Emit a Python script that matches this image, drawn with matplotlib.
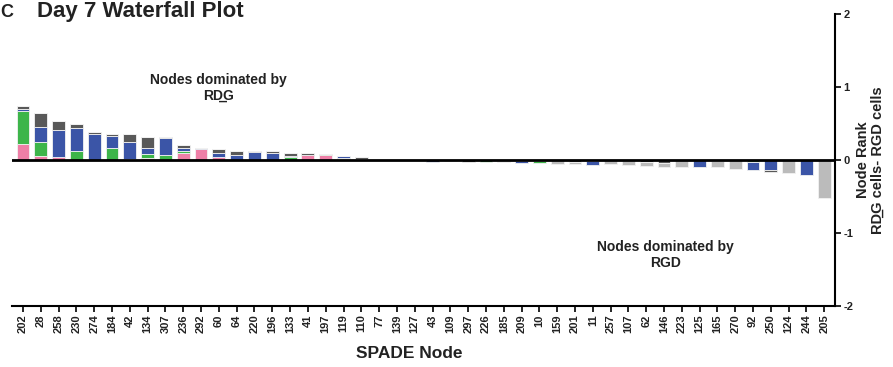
import matplotlib
matplotlib.use("Agg")
import matplotlib.pyplot as plt
import numpy as np

plt.rcParams['font.family'] = ['Liberation Sans', 'DejaVu Sans']
plt.rcParams['font.weight'] = 'bold'

nodes = ["202", "28", "258", "230", "274", "184", "42", "134", "307", "236",
         "292", "60", "64", "220", "196", "133", "41", "197", "119", "110",
         "77", "139", "127", "43", "109", "297", "226", "185", "209", "10",
         "159", "201", "11", "257", "107", "62", "146", "223", "125", "165",
         "270", "92", "250", "124", "244", "205"]

pink = [0.22, 0.06, 0.04, 0.0, 0.0, 0.0, 0.02, 0.03, 0.0, 0.10,
        0.15, 0.04, 0.0, 0.0, 0.0, 0.0, 0.07, 0.07, 0.02, 0.0,
        0.0, 0.0, 0.0, 0.0, 0.0, 0.0, 0.0, 0.0, -0.015, -0.015,
        0.0, 0.0, -0.02, 0.0, 0.0, 0.0, 0.0, 0.0, 0.0, 0.0,
        0.0, 0.0, 0.0, 0.0, 0.0, 0.0]
green = [0.45, 0.19, 0.0, 0.12, 0.0, 0.17, 0.0, 0.05, 0.07, 0.02,
         0.0, 0.0, 0.0, 0.0, 0.0, 0.04, 0.0, 0.01, 0.01, 0.0,
         0.0, 0.0, 0.0, 0.0, 0.0, 0.0, -0.03, 0.0, 0.0, -0.025,
         0.0, 0.0, 0.0, 0.0, 0.0, 0.0, 0.0, 0.0, 0.0, 0.0,
         0.0, -0.03, 0.0, 0.0, 0.0, 0.0]
blue = [0.03, 0.20, 0.37, 0.32, 0.35, 0.16, 0.22, 0.09, 0.23, 0.05,
        0.02, 0.06, 0.07, 0.11, 0.10, 0.02, 0.0, 0.0, 0.02, 0.01,
        0.0, 0.0, 0.0, -0.03, 0.0, 0.0, 0.0, 0.0, -0.025, 0.0,
        0.0, 0.0, -0.05, 0.0, 0.0, 0.0, 0.0, 0.0, -0.10, 0.0,
        0.0, -0.10, -0.13, 0.0, -0.21, 0.0]
dark = [0.04, 0.20, 0.12, 0.05, 0.03, 0.03, 0.12, 0.15, 0.02, 0.03,
        0.0, 0.05, 0.06, 0.02, 0.02, 0.04, 0.02, 0.0, 0.0, 0.03,
        0.0, 0.0, 0.0, 0.0, 0.0, -0.03, 0.0, -0.01, 0.0, 0.0,
        0.0, -0.03, 0.0, 0.0, 0.0, -0.03, -0.04, 0.0, 0.0, -0.02,
        0.0, 0.0, -0.03, 0.0, 0.0, 0.0]
light = [0.0] * 24 + [-0.02, 0.0, 0.0, -0.02, 0.0, 0.0,
                      -0.05, -0.03, 0.0, -0.06, -0.07, -0.05, -0.05, -0.10, 0.0, -0.08,
                      -0.12, 0.0, 0.0, -0.18, 0.0, -0.52]

series = [pink, green, blue, dark, light]
colors = ["#EE7FA7", "#3DB54A", "#3B55A7", "#595959", "#BBBBBB"]

fig = plt.figure(figsize=(8.93, 3.67), dpi=100)
ax = fig.add_axes([0.0134, 0.166, 0.9216, 0.796])

x = np.arange(len(nodes))
pos_base = np.zeros(len(nodes))
neg_base = np.zeros(len(nodes))
for vals, c in zip(series, colors):
    v = np.array(vals)
    bottom = np.where(v >= 0, pos_base, neg_base)
    ax.bar(x, v, bottom=bottom, width=0.72, color=c, edgecolor="#f2f2f2",
           linewidth=0.6, zorder=2)
    pos_base = pos_base + np.where(v > 0, v, 0)
    neg_base = neg_base + np.where(v < 0, v, 0)

ax.axhline(0, color="black", lw=2, zorder=3)
ax.set_xlim(-0.62, 45.6)
ax.set_ylim(-2, 2)

ax.spines['left'].set_visible(False)
ax.spines['top'].set_visible(False)
ax.spines['right'].set_linewidth(1.5)
ax.spines['bottom'].set_linewidth(1.5)

ax.set_xticks(x)
ax.set_xticklabels(nodes, rotation=90, fontsize=8, fontweight='bold', color="#222222")
ax.tick_params(axis='x', length=4, width=1.2, pad=2)

ax.yaxis.tick_right()
ax.set_yticks([-2, -1, 0, 1, 2])
ax.set_yticklabels(["-2", "-1", "0", "1", "2"], fontsize=8, fontweight='bold', color="#222222")
ax.tick_params(axis='y', length=4, width=1.2, pad=2)
ax.yaxis.set_label_position('right')
ax.set_ylabel("Node Rank\nRD\u0332G cells- RGD cells", fontsize=10.5, fontweight='bold',
              color="#222222", linespacing=1.05)
ax.yaxis.set_label_coords(1.026, 0.5)

ax.set_xlabel("SPADE Node", fontsize=12.5, fontweight='bold', color="#222222")
ax.xaxis.set_label_coords(0.4825, -0.138)

ax.text(11.0, 0.99, "Nodes dominated by\nRD\u0332G", ha='center', va='center',
        fontsize=10, fontweight='bold', color="#222222", linespacing=1.2)
ax.text(36.1, -1.3, "Nodes dominated by\nRGD", ha='center', va='center',
        fontsize=10, fontweight='bold', color="#222222", linespacing=1.2)

fig.text(0.0, 1 - 17 / 367, "C", fontsize=13, fontweight='bold', color="#222222",
         va='baseline', ha='left')
fig.text(0.041, 1 - 17 / 367, "Day 7 Waterfall Plot", fontsize=16, fontweight='bold',
         color="#222222", va='baseline', ha='left')

fig.savefig("out.png", dpi=100)
